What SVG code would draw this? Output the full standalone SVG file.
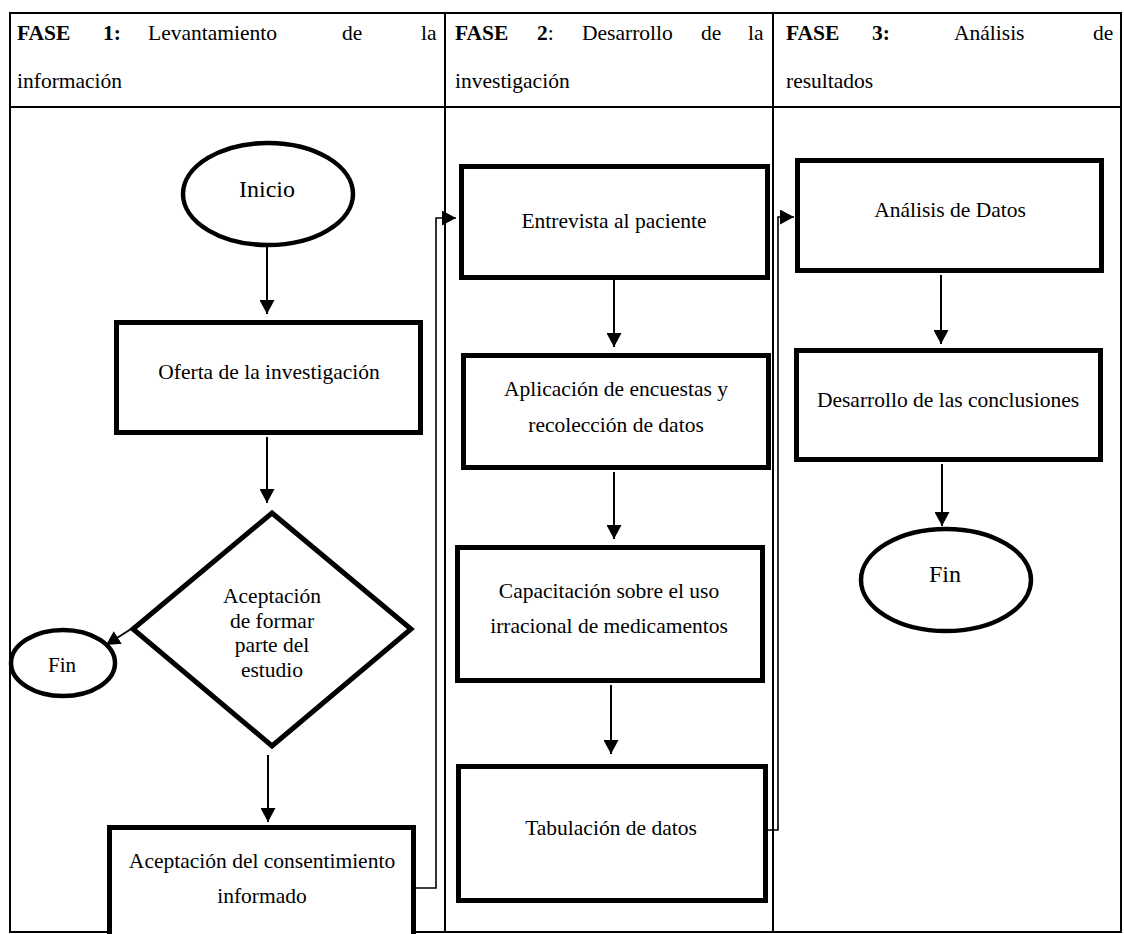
<svg xmlns="http://www.w3.org/2000/svg" width="1124" height="934" viewBox="0 0 1124 934">
<style>
  text { fill: #000; font-family: "Liberation Serif", "Times New Roman", serif; }
  .hd { font-size: 21.5px; }
  .b { font-weight: bold; }
  .lbl { font-size: 21.5px; text-anchor: middle; }
  .big { font-size: 24px; text-anchor: middle; }
  .small { font-size: 21px; text-anchor: middle; }
  .tbl { fill: none; stroke: #000; stroke-width: 2; }
  .box { fill: #fff; stroke: #000; stroke-width: 5; stroke-linejoin: miter; }
  .term { fill: #fff; stroke: #000; stroke-width: 4.5; }
  .arr { fill: none; stroke: #000; stroke-width: 2; marker-end: url(#ah); }
  .con { fill: none; stroke: #000; stroke-width: 1.6; marker-end: url(#ah); }
</style>
<defs>
  <marker id="ah" markerUnits="userSpaceOnUse" markerWidth="15" markerHeight="15" refX="14" refY="7.5" orient="auto">
    <path d="M0,0 L14,7.5 L0,15 z" fill="#000"/>
  </marker>
</defs>
<rect width="1124" height="934" fill="#fff"/>

<g id="table">
  <rect class="tbl" x="10" y="13" width="1111" height="919"/>
  <line class="tbl" x1="10" y1="107" x2="1121" y2="107"/>
  <line class="tbl" x1="445" y1="13" x2="445" y2="932"/>
  <line class="tbl" x1="773" y1="13" x2="773" y2="932"/>
</g>

<g id="headers">
  <text class="hd" y="40"><tspan class="b" x="17">FASE</tspan><tspan class="b" x="103">1:</tspan><tspan x="148">Levantamiento</tspan><tspan x="342">de</tspan><tspan x="421">la</tspan></text>
  <text class="hd" x="17" y="88">información</text>
  <text class="hd" y="40"><tspan class="b" x="455">FASE</tspan><tspan class="b" x="537">2</tspan><tspan>:</tspan><tspan x="582">Desarrollo</tspan><tspan x="701">de</tspan><tspan x="748">la</tspan></text>
  <text class="hd" x="455" y="88">investigación</text>
  <text class="hd" y="40"><tspan class="b" x="786">FASE</tspan><tspan class="b" x="872">3:</tspan><tspan x="954">Análisis</tspan><tspan x="1093">de</tspan></text>
  <text class="hd" x="786" y="88">resultados</text>
</g>

<g id="connectors">
  <line class="arr" x1="267" y1="247" x2="267" y2="314"/>
  <line class="arr" x1="267" y1="437" x2="267" y2="503"/>
  <line class="arr" x1="131" y1="629" x2="106" y2="645"/>
  <line class="arr" x1="268" y1="755" x2="268" y2="822"/>
  <path class="con" d="M416,888 H436 V218 H456"/>
  <line class="arr" x1="614" y1="280" x2="614" y2="347"/>
  <line class="arr" x1="614" y1="472" x2="614" y2="539"/>
  <line class="arr" x1="611" y1="685" x2="611" y2="754"/>
  <path class="con" d="M768,830 H778 V217 H794"/>
  <line class="arr" x1="941" y1="275" x2="941" y2="344"/>
  <line class="arr" x1="942" y1="464" x2="942" y2="526"/>
</g>

<g id="inicio">
  <ellipse class="term" cx="268" cy="194" rx="85" ry="51"/>
  <text class="big" x="267" y="197">Inicio</text>
</g>
<g id="oferta">
  <rect class="box" x="116.5" y="322.5" width="304" height="110"/>
  <text class="lbl" x="269" y="379">Oferta de la investigación</text>
</g>
<g id="decision">
  <polygon class="box" points="272,513 411,629 272,746 133,629"/>
  <text class="lbl" x="272" y="603">Aceptación</text>
  <text class="lbl" x="272" y="628">de formar</text>
  <text class="lbl" x="272" y="652">parte del</text>
  <text class="lbl" x="272" y="677">estudio</text>
</g>
<g id="fin1">
  <ellipse class="term" cx="63" cy="663" rx="52" ry="33"/>
  <text class="small" x="62" y="672">Fin</text>
</g>
<g id="consentimiento">
  <rect class="box" x="109.5" y="827.5" width="304" height="150"/>
  <text class="lbl" x="262" y="868">Aceptación del consentimiento</text>
  <text class="lbl" x="262" y="903">informado</text>
</g>
<g id="entrevista">
  <rect class="box" x="461.5" y="166.5" width="306" height="111"/>
  <text class="lbl" x="614" y="228">Entrevista al paciente</text>
</g>
<g id="aplicacion">
  <rect class="box" x="463.5" y="355.5" width="305" height="112"/>
  <text class="lbl" x="616" y="396">Aplicación de encuestas y</text>
  <text class="lbl" x="616" y="432">recolección de datos</text>
</g>
<g id="capacitacion">
  <rect class="box" x="457.5" y="547.5" width="305" height="133"/>
  <text class="lbl" x="609" y="598">Capacitación sobre el uso</text>
  <text class="lbl" x="609" y="633">irracional de medicamentos</text>
</g>
<g id="tabulacion">
  <rect class="box" x="458.5" y="766.5" width="307" height="134"/>
  <text class="lbl" x="611" y="835">Tabulación de datos</text>
</g>
<g id="analisis">
  <rect class="box" x="797.5" y="160.5" width="304" height="110"/>
  <text class="lbl" x="950" y="217">Análisis de Datos</text>
</g>
<g id="conclusiones">
  <rect class="box" x="796.5" y="350.5" width="304" height="109"/>
  <text class="lbl" x="948" y="407">Desarrollo de las conclusiones</text>
</g>
<g id="fin2">
  <ellipse class="term" cx="946" cy="580" rx="85" ry="51"/>
  <text class="big" x="945" y="582">Fin</text>
</g>
</svg>
